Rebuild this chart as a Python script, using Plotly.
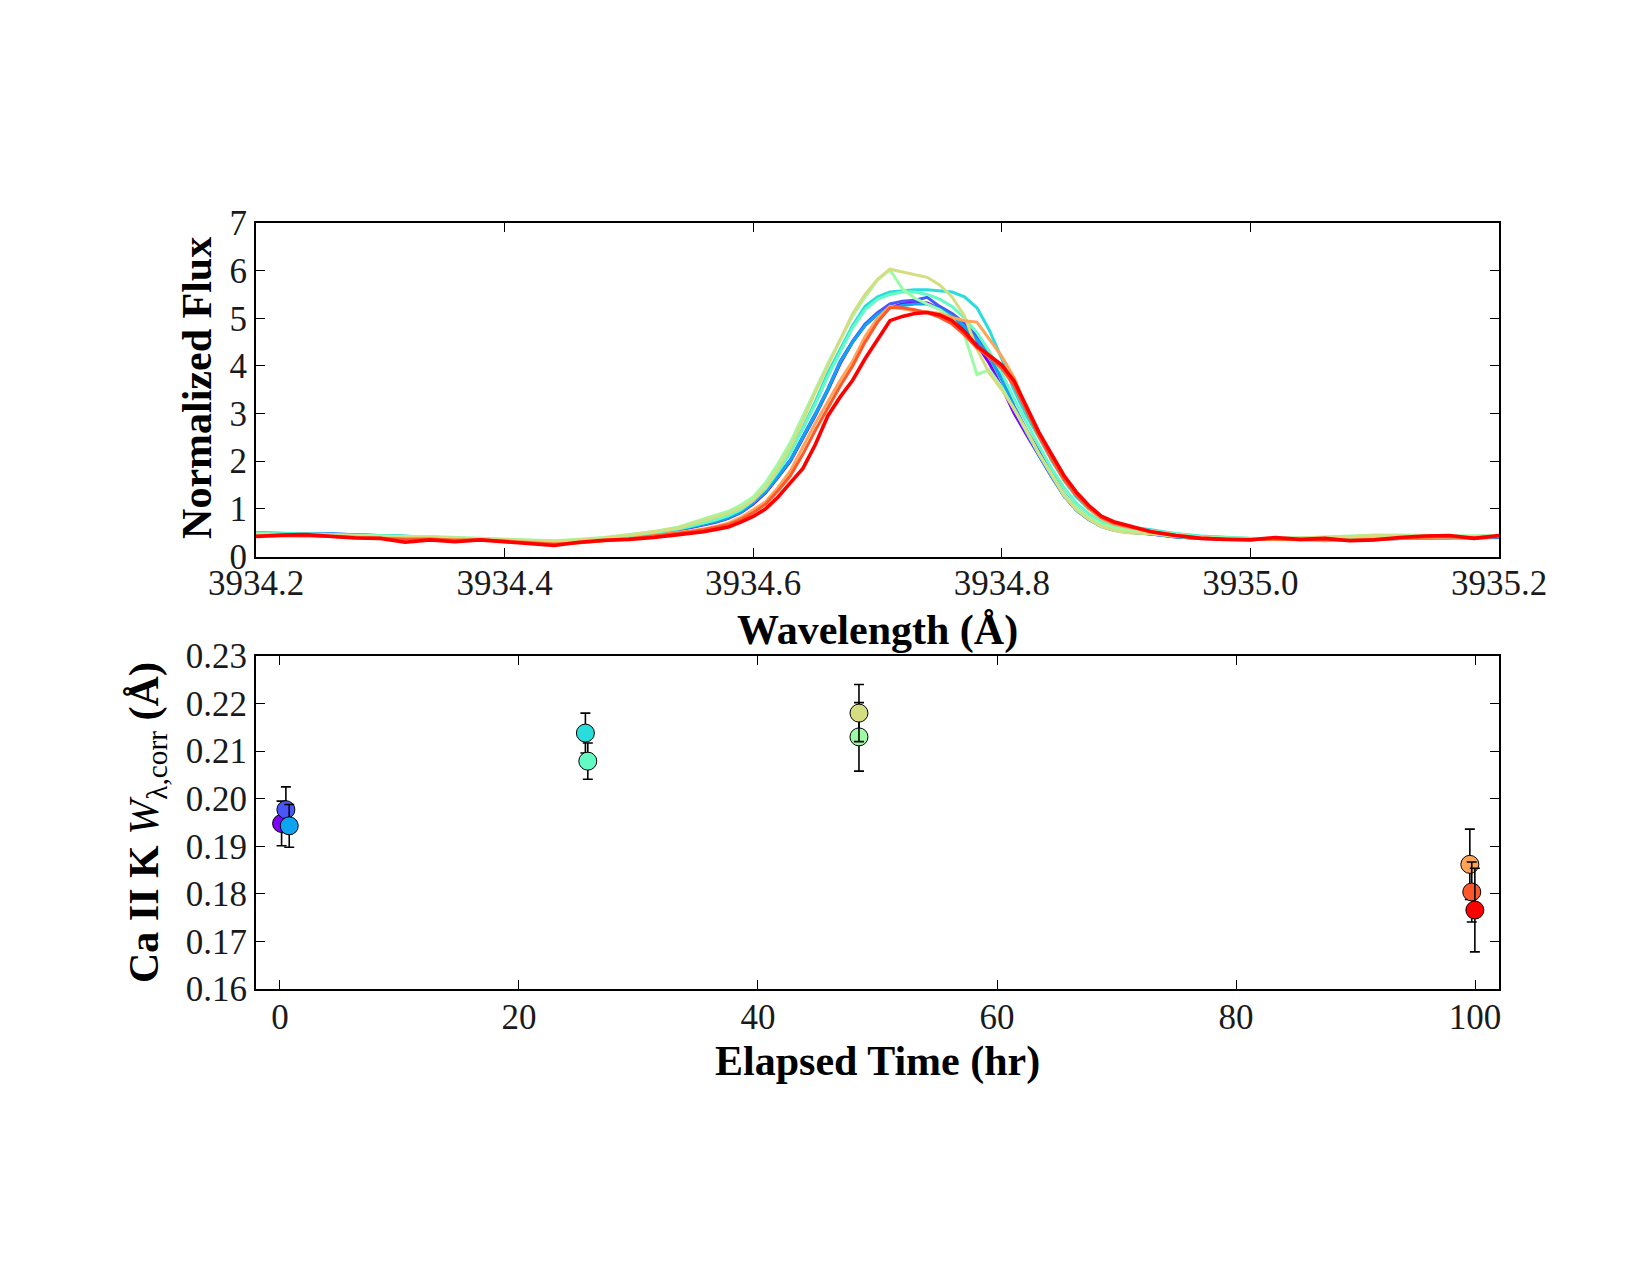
import plotly.graph_objects as go

# ---------------- data ----------------
wavelength = [
    3934.20, 3934.22, 3934.24, 3934.26, 3934.28, 3934.30, 3934.32, 3934.34, 3934.36,
    3934.38, 3934.40, 3934.42, 3934.44, 3934.46, 3934.48, 3934.50, 3934.52,
    3934.54, 3934.55, 3934.56, 3934.57, 3934.58, 3934.59, 3934.60, 3934.61, 3934.62,
    3934.63, 3934.64, 3934.65, 3934.66, 3934.67, 3934.68, 3934.69, 3934.70, 3934.71,
    3934.72, 3934.73, 3934.74, 3934.75, 3934.76, 3934.77, 3934.78, 3934.79, 3934.80,
    3934.81, 3934.82, 3934.83, 3934.84, 3934.85, 3934.86, 3934.87, 3934.88, 3934.89,
    3934.90,
    3934.92, 3934.94, 3934.96, 3934.98, 3935.00, 3935.02, 3935.04, 3935.06, 3935.08,
    3935.10, 3935.12, 3935.14, 3935.16, 3935.18, 3935.20,
]

flux_purple = [
    0.48, 0.47, 0.47, 0.46, 0.44, 0.43, 0.42, 0.40, 0.38, 0.37, 0.35, 0.32, 0.30, 0.32, 0.36, 0.41, 0.48,
    0.55, 0.61, 0.66, 0.72, 0.80, 0.92, 1.10, 1.34, 1.66, 2.00, 2.48, 2.96, 3.48, 4.05, 4.50, 4.85, 5.08,
    5.22, 5.30, 5.33, 5.32, 5.20, 5.02, 4.78, 4.45, 4.05, 3.55, 3.00, 2.55, 2.10, 1.68, 1.28, 0.98, 0.78,
    0.64, 0.56, 0.52,
    0.47, 0.41, 0.38, 0.37, 0.36, 0.37, 0.37, 0.36, 0.36, 0.37, 0.38, 0.39, 0.40, 0.39, 0.40,
]
flux_blue = [
    0.50, 0.48, 0.47, 0.48, 0.46, 0.44, 0.43, 0.41, 0.39, 0.37, 0.34, 0.31, 0.29, 0.31, 0.35, 0.40, 0.47,
    0.57, 0.63, 0.68, 0.74, 0.82, 0.94, 1.13, 1.37, 1.70, 2.03, 2.52, 3.00, 3.52, 4.10, 4.52, 4.88, 5.12,
    5.30, 5.36, 5.38, 5.44, 5.25, 5.10, 4.90, 4.62, 4.25, 3.75, 3.15, 2.65, 2.20, 1.75, 1.33, 1.02, 0.82,
    0.66, 0.57, 0.53,
    0.48, 0.42, 0.39, 0.37, 0.37, 0.38, 0.37, 0.37, 0.36, 0.37, 0.38, 0.40, 0.40, 0.40, 0.41,
]
flux_azure = [
    0.49, 0.48, 0.46, 0.47, 0.45, 0.44, 0.42, 0.41, 0.38, 0.36, 0.34, 0.31, 0.29, 0.32, 0.36, 0.41, 0.48,
    0.56, 0.62, 0.67, 0.73, 0.81, 0.93, 1.12, 1.36, 1.68, 2.02, 2.50, 2.98, 3.50, 4.08, 4.50, 4.85, 5.08,
    5.22, 5.27, 5.30, 5.30, 5.20, 5.05, 4.82, 4.55, 4.18, 3.70, 3.12, 2.60, 2.12, 1.68, 1.27, 0.97, 0.77,
    0.63, 0.55, 0.51,
    0.47, 0.41, 0.38, 0.37, 0.36, 0.36, 0.37, 0.36, 0.35, 0.36, 0.38, 0.39, 0.39, 0.40, 0.41,
]
flux_cyan = [
    0.50, 0.49, 0.48, 0.47, 0.46, 0.45, 0.43, 0.40, 0.39, 0.37, 0.35, 0.32, 0.30, 0.33, 0.37, 0.42, 0.50,
    0.58, 0.64, 0.70, 0.77, 0.86, 0.98, 1.18, 1.45, 1.80, 2.20, 2.70, 3.25, 3.85, 4.35, 4.85, 5.25, 5.45,
    5.55, 5.58, 5.60, 5.60, 5.58, 5.55, 5.45, 5.22, 4.75, 4.15, 3.48, 2.95, 2.50, 2.02, 1.60, 1.25, 1.00,
    0.82, 0.70, 0.63,
    0.56, 0.48, 0.43, 0.40, 0.38, 0.38, 0.38, 0.39, 0.38, 0.39, 0.40, 0.41, 0.42, 0.42, 0.43,
]
flux_aqua = [
    0.49, 0.47, 0.47, 0.46, 0.45, 0.43, 0.42, 0.41, 0.39, 0.37, 0.34, 0.32, 0.31, 0.33, 0.38, 0.43, 0.50,
    0.58, 0.64, 0.70, 0.77, 0.86, 0.98, 1.18, 1.43, 1.78, 2.18, 2.68, 3.20, 3.78, 4.30, 4.80, 5.18, 5.40,
    5.50, 5.55, 5.55, 5.50, 5.40, 5.25, 5.00, 4.70, 4.30, 3.85, 3.30, 2.80, 2.32, 1.85, 1.45, 1.12, 0.90,
    0.74, 0.65, 0.60,
    0.54, 0.47, 0.42, 0.40, 0.38, 0.38, 0.39, 0.40, 0.40, 0.41, 0.42, 0.42, 0.43, 0.42, 0.43,
]
flux_lightgreen = [
    0.47, 0.46, 0.46, 0.45, 0.44, 0.43, 0.42, 0.42, 0.40, 0.38, 0.36, 0.34, 0.33, 0.36, 0.40, 0.46, 0.52,
    0.62, 0.70, 0.78, 0.86, 0.95, 1.08, 1.25, 1.55, 1.95, 2.40, 2.95, 3.50, 4.05, 4.55, 5.05, 5.45, 5.80,
    6.02, 5.62, 5.42, 5.30, 5.18, 5.00, 4.65, 3.82, 3.92, 3.55, 3.10, 2.62, 2.15, 1.72, 1.32, 1.02, 0.82,
    0.68, 0.60, 0.55,
    0.50, 0.44, 0.40, 0.39, 0.38, 0.38, 0.39, 0.41, 0.43, 0.45, 0.45, 0.44, 0.43, 0.43, 0.44,
]
flux_khaki = [
    0.46, 0.46, 0.45, 0.45, 0.43, 0.42, 0.41, 0.41, 0.39, 0.37, 0.35, 0.33, 0.32, 0.35, 0.39, 0.45, 0.52,
    0.60, 0.68, 0.75, 0.83, 0.91, 1.02, 1.18, 1.45, 1.85, 2.30, 2.85, 3.45, 4.00, 4.55, 5.10, 5.50, 5.82,
    6.03, 5.97, 5.92, 5.86, 5.70, 5.45, 5.05, 4.35, 3.85, 3.50, 3.10, 2.65, 2.15, 1.70, 1.28, 0.98, 0.78,
    0.63, 0.55, 0.50,
    0.48, 0.42, 0.39, 0.38, 0.37, 0.38, 0.39, 0.40, 0.42, 0.44, 0.44, 0.43, 0.42, 0.42, 0.43,
]
flux_lightorange = [
    0.44, 0.44, 0.43, 0.42, 0.40, 0.39, 0.37, 0.36, 0.35, 0.34, 0.33, 0.30, 0.27, 0.29, 0.33, 0.38, 0.44,
    0.50, 0.54, 0.58, 0.63, 0.70, 0.82, 0.98, 1.15, 1.45, 1.80, 2.30, 2.80, 3.25, 3.70, 4.10, 4.62, 5.00,
    5.25, 5.20, 5.16, 5.14, 5.10, 5.02, 4.95, 4.92, 4.55, 4.20, 3.75, 3.10, 2.55, 2.05, 1.62, 1.28, 1.00,
    0.80, 0.68, 0.62,
    0.53, 0.45, 0.40, 0.37, 0.36, 0.36, 0.35, 0.33, 0.34, 0.36, 0.38, 0.40, 0.41, 0.40, 0.42,
]
flux_orangered = [
    0.43, 0.44, 0.44, 0.42, 0.40, 0.38, 0.36, 0.37, 0.34, 0.35, 0.32, 0.29, 0.26, 0.29, 0.33, 0.37, 0.43,
    0.48, 0.52, 0.56, 0.61, 0.67, 0.78, 0.92, 1.10, 1.38, 1.70, 2.15, 2.65, 3.12, 3.58, 4.00, 4.50, 4.92,
    5.22, 5.22, 5.18, 5.12, 5.02, 4.88, 4.65, 4.38, 4.18, 3.95, 3.58, 3.05, 2.52, 2.05, 1.62, 1.28, 1.02,
    0.82, 0.70, 0.64,
    0.52, 0.44, 0.39, 0.36, 0.35, 0.37, 0.35, 0.36, 0.34, 0.35, 0.38, 0.41, 0.42, 0.39, 0.43,
]
flux_red = [
    0.42, 0.45, 0.46, 0.43, 0.39, 0.38, 0.30, 0.35, 0.31, 0.35, 0.31, 0.28, 0.23, 0.30, 0.34, 0.36, 0.40,
    0.46, 0.49, 0.52, 0.57, 0.62, 0.72, 0.84, 1.00, 1.25, 1.55, 1.85, 2.35, 2.95, 3.35, 3.70, 4.15, 4.55,
    4.95, 5.04, 5.10, 5.12, 5.07, 4.95, 4.72, 4.42, 4.22, 4.02, 3.68, 3.15, 2.60, 2.15, 1.70, 1.35, 1.07,
    0.85, 0.73, 0.66,
    0.52, 0.44, 0.38, 0.36, 0.35, 0.40, 0.36, 0.38, 0.33, 0.35, 0.40, 0.43, 0.44, 0.38, 0.44,
]

spectra = [flux_purple, flux_blue, flux_azure, flux_cyan, flux_aqua,
           flux_lightgreen, flux_khaki, flux_lightorange, flux_orangered, flux_red]

# rainbow colormap sampled at 10 evenly spaced points
colors = ["#8000ff", "#4757fb", "#0ea4f0", "#2adddd", "#63fbc3",
          "#9cfba4", "#d4dd80", "#ffa457", "#ff572c", "#ff0000"]

elapsed_time = [0.14, 0.50, 0.78, 25.56, 25.76, 48.45, 48.45, 99.56, 99.72, 99.98]
equiv_width = [0.1948, 0.1977, 0.1943, 0.2138, 0.2079, 0.2130, 0.2180, 0.1862, 0.1804, 0.1766]
equiv_width_err = [0.0047, 0.0048, 0.0045, 0.0042, 0.0038, 0.0072, 0.0060, 0.0074, 0.0063, 0.0088]

x_ticks_top = [3934.2, 3934.4, 3934.6, 3934.8, 3935.0, 3935.2]
y_ticks_top = [0, 1, 2, 3, 4, 5, 6, 7]
x_ticks_bot = [0, 20, 40, 60, 80, 100]
y_ticks_bot = [0.16, 0.17, 0.18, 0.19, 0.20, 0.21, 0.22, 0.23]

# ---------------- figure ----------------
FONT = "Liberation Serif"
fig = go.Figure()

for flux, col in zip(spectra, colors):
    fig.add_trace(go.Scatter(
        x=wavelength, y=flux, mode="lines",
        line=dict(color=col, width=3.6 if col == "#ff0000" else 3.0),
        xaxis="x", yaxis="y", showlegend=False, hoverinfo="skip"))

for t, w, e, col in zip(elapsed_time, equiv_width, equiv_width_err, colors):
    fig.add_trace(go.Scatter(
        x=[t], y=[w], mode="markers",
        marker=dict(size=18, color=col, line=dict(color="black", width=1)),
        error_y=dict(type="data", array=[e], color="black", thickness=1.6, width=5),
        xaxis="x2", yaxis="y2", showlegend=False))

axis_common = dict(
    showline=True, linecolor="black", linewidth=2, mirror="allticks",
    ticks="inside", ticklen=9, tickwidth=1.3, tickcolor="black",
    showgrid=False, zeroline=False,
    tickfont=dict(family=FONT, size=35, color="#1a1a1a"),
)

fig.update_layout(
    width=1650, height=1275,
    paper_bgcolor="white", plot_bgcolor="white",
    margin=dict(l=256, r=151, t=223, b=286),
    xaxis=dict(domain=[0, 1], anchor="y", range=[3934.2, 3935.2],
               tickvals=x_ticks_top, ticktext=[f"{v:.1f}" for v in x_ticks_top],
               ticklabelstandoff=-6, **axis_common),
    yaxis=dict(domain=[0.5646, 1.0], anchor="x", range=[0, 7],
               tickvals=y_ticks_top, ticktext=[str(v) for v in y_ticks_top],
               **axis_common),
    xaxis2=dict(domain=[0, 1], anchor="y2", range=[-2, 102],
                tickvals=x_ticks_bot, ticktext=[str(v) for v in x_ticks_bot],
                ticklabelstandoff=-4, **axis_common),
    yaxis2=dict(domain=[0, 0.4347], anchor="x2", range=[0.16, 0.23],
                tickvals=y_ticks_bot, ticktext=[f"{v:.2f}" for v in y_ticks_bot],
                **axis_common),
)

title_font = dict(family=FONT, size=42, color="black")
ann = [
    dict(text="<b>Normalized Flux</b>", x=-0.0475, y=0.7846, textangle=-90),
    dict(text="<b>Wavelength (Å)</b>", x=0.5, y=0.4674, textangle=0),
    dict(text="<b>Ca II K</b> <i>W</i><sub>λ,corr</sub> <b>(Å)</b>", x=-0.0877, y=0.218, textangle=-90),
    dict(text="<b>Elapsed Time (hr)</b>", x=0.5, y=-0.094, textangle=0),
]
for a in ann:
    fig.add_annotation(xref="paper", yref="paper", showarrow=False,
                       xanchor="center", yanchor="middle", font=title_font, **a)

fig.write_html("out.html")
